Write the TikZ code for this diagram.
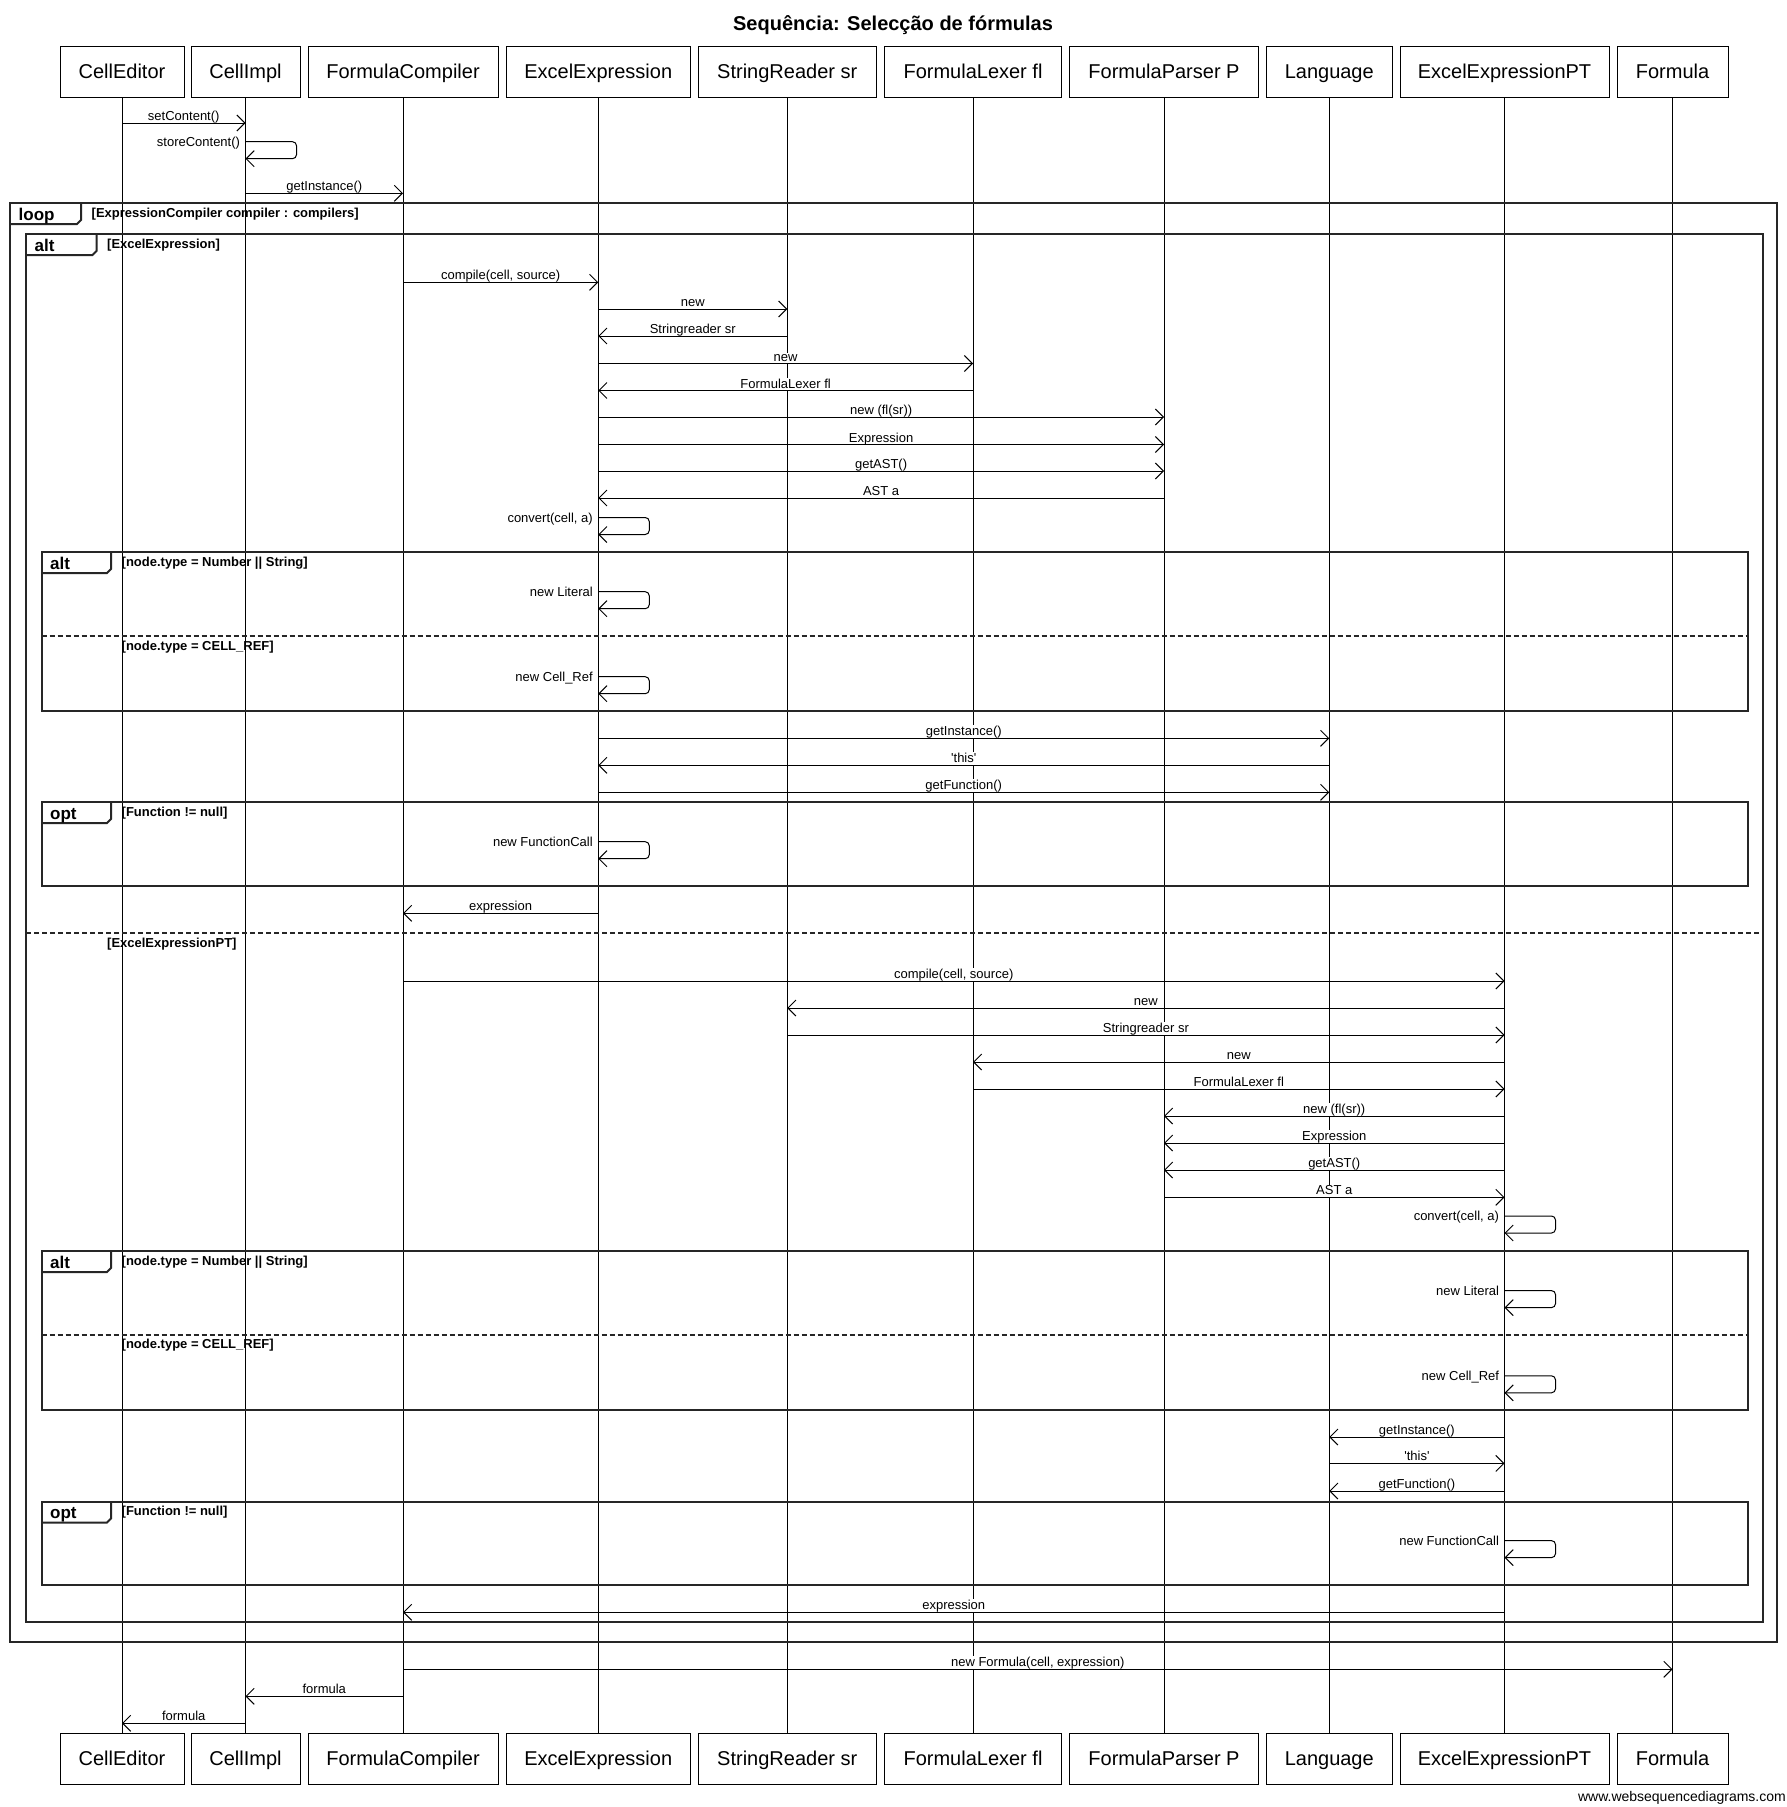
\documentclass[tikz,border=0pt]{standalone}
\usepackage{fontspec}
\newfontfamily\sansf{Liberation Sans}
\usetikzlibrary{arrows.meta}
\newcounter{msgc}
\newcommand\msg[4]{\stepcounter{msgc}\draw[msgline] (#1 |- 0,#3) -- node[lbl] (m\arabic{msgc}) {#4} (#2 |- 0,#3);}
\newcommand\selfmsg[3]{\stepcounter{msgc}\draw[msgline, rounded corners=4pt] (#1 |- 0,#2) node[slbl] (m\arabic{msgc}) {#3} -- ++(51,0) -- ++(0,17) -- ++(-51,0);}
\newcommand\fragment[8]{%
 \draw[frameline] (#1,#2) rectangle (#3,#4);
 \draw[frameline] (#1,#2+21) -- (#5-4,#2+21) -- (#5,#2+17) -- (#5,#2);
 \node[fraglbl] (#8lbl) at (#1+8.5,#2+17) {#6};
 \node[guardlbl] (#8grd) at (#5+10.5,#2+14) {#7};}
\newcommand\separator[6]{%
 \draw[frameline, dash pattern=on 5pt off 3pt] (#1,#3) -- (#2,#3);
 \node[guardlbl] (#6) at (#4+10.5,#3+14) {#5};}
\begin{document}
\begin{tikzpicture}[x=1pt,y=-1pt,
 part/.style={draw, line width=1pt, fill=white, inner sep=0pt, minimum height=51pt, text height=14.3pt, text depth=0pt, font=\sansf\fontsize{20pt}{22pt}\selectfont},
 life/.style={line width=1pt},
 msgline/.style={line width=1pt, -{Straight Barb[length=8pt,width=16pt,line width=1pt]}},
 lbl/.style={midway, anchor=base, yshift=2.5pt, fill=white, inner xsep=1pt, inner ysep=1pt, text depth=1pt, font=\sansf\fontsize{13pt}{15pt}\selectfont},
 slbl/.style={anchor=base east, xshift=-5pt, yshift=-4.5pt, inner sep=0pt, font=\sansf\fontsize{13pt}{15pt}\selectfont},
 frameline/.style={line width=2pt, draw=black!85},
 fraglbl/.style={anchor=base west, inner sep=0pt, font=\sansf\bfseries\fontsize{17pt}{19pt}\selectfont},
 guardlbl/.style={anchor=base west, inner sep=0pt, font=\sansf\bfseries\fontsize{13pt}{15pt}\selectfont}]
\useasboundingbox (0,0) rectangle (1786,1807);
\fill[white] (0,0) rectangle (1786,1807);
\node[anchor=center, inner sep=0pt, text height=14.3pt, text depth=0pt, font=\sansf\bfseries\fontsize{20pt}{22pt}\selectfont] (title) at (893,23.7) {Sequência: Selecção de fórmulas};
% participants
\foreach \n/\c/\w/\t in {ce/122/124/CellEditor, ci/245.5/109/CellImpl, fc/403/190/FormulaCompiler, ee/598.25/184.5/ExcelExpression, sr/787.25/178.5/StringReader sr, fl/973/177/FormulaLexer fl, fp/1164/189/FormulaParser P, la/1329.25/126.5/Language, pt/1504.5/209/ExcelExpressionPT, fo/1672.5/111/Formula}{
 \node[part, minimum width=\w pt] (\n T) at (\c,71.5) {\t};
 \node[part, minimum width=\w pt] (\n B) at (\c,1758.5) {\t};
 \draw[life] (\n T.south) -- (\n B.north);
}
% fragments
\fragment{10}{203}{1777}{1642}{81}{loop}{[ExpressionCompiler compiler : compilers]}{loop}
\fragment{26}{234}{1762.5}{1622}{96.5}{alt}{[ExcelExpression]}{altA}
\separator{26}{1762.5}{933}{96.5}{[ExcelExpressionPT]}{altAsep}
\fragment{41.5}{552}{1748}{711}{111}{alt}{[node.type = Number || String]}{altB}
\separator{41.5}{1748}{636}{111}{[node.type = CELL\_REF]}{altBsep}
\fragment{41.5}{802}{1748}{886}{111}{opt}{[Function != null]}{optA}
\fragment{41.5}{1251}{1748}{1409.5}{111}{alt}{[node.type = Number || String]}{altC}
\separator{41.5}{1748}{1334.5}{111}{[node.type = CELL\_REF]}{altCsep}
\fragment{41.5}{1501.5}{1748}{1584.5}{111}{opt}{[Function != null]}{optB}
% messages
\msg{ceT}{ciT}{123}{setContent()}
\selfmsg{ciT}{141.7}{storeContent()}
\msg{ciT}{fcT}{193.3}{getInstance()}
\msg{fcT}{eeT}{282.3}{compile(cell, source)}
\msg{eeT}{srT}{309}{new}
\msg{srT}{eeT}{336}{Stringreader sr}
\msg{eeT}{flT}{363.5}{new}
\msg{flT}{eeT}{390.5}{FormulaLexer fl}
\msg{eeT}{fpT}{417}{new (fl(sr))}
\msg{eeT}{fpT}{444.5}{Expression}
\msg{eeT}{fpT}{471}{getAST()}
\msg{fpT}{eeT}{498}{AST a}
\selfmsg{eeT}{517.5}{convert(cell, a)}
\selfmsg{eeT}{591.7}{new Literal}
\selfmsg{eeT}{676.7}{new Cell\_Ref}
\msg{eeT}{laT}{738.3}{getInstance()}
\msg{laT}{eeT}{765.3}{'this'}
\msg{eeT}{laT}{792.3}{getFunction()}
\selfmsg{eeT}{841.7}{new FunctionCall}
\msg{eeT}{fcT}{913.3}{expression}
\msg{fcT}{ptT}{981}{compile(cell, source)}
\msg{ptT}{srT}{1008}{new}
\msg{srT}{ptT}{1035}{Stringreader sr}
\msg{ptT}{flT}{1062}{new}
\msg{flT}{ptT}{1089}{FormulaLexer fl}
\msg{ptT}{fpT}{1116}{new (fl(sr))}
\msg{ptT}{fpT}{1143}{Expression}
\msg{ptT}{fpT}{1170}{getAST()}
\msg{fpT}{ptT}{1197.3}{AST a}
\selfmsg{ptT}{1216}{convert(cell, a)}
\selfmsg{ptT}{1290.6}{new Literal}
\selfmsg{ptT}{1375.8}{new Cell\_Ref}
\msg{ptT}{laT}{1437}{getInstance()}
\msg{laT}{ptT}{1463.4}{'this'}
\msg{ptT}{laT}{1491}{getFunction()}
\selfmsg{ptT}{1540.6}{new FunctionCall}
\msg{ptT}{fcT}{1612.3}{expression}
\msg{fcT}{foT}{1669.3}{new Formula(cell, expression)}
\msg{fcT}{ciT}{1696.3}{formula}
\msg{ciT}{ceT}{1723.3}{formula}
\node[anchor=south east, inner sep=0pt, font=\sansf\fontsize{14pt}{16pt}\selectfont] (wm) at (1786,1805) {www.websequencediagrams.com};
\end{tikzpicture}
\end{document}
